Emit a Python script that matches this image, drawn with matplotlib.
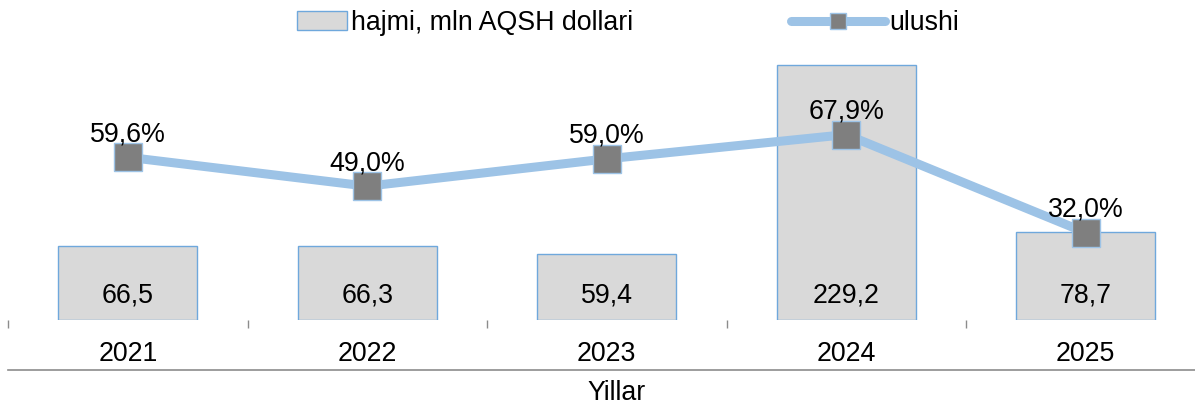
import matplotlib.pyplot as plt
import matplotlib.patches as mpatches
from matplotlib.lines import Line2D
from matplotlib.legend_handler import HandlerPatch

years = ["2021", "2022", "2023", "2024", "2025"]
volume = [66.5, 66.3, 59.4, 229.2, 78.7]
share = [59.6, 49.0, 59.0, 67.9, 32.0]
volume_labels = ["66,5", "66,3", "59,4", "229,2", "78,7"]
share_labels = ["59,6%", "49,0%", "59,0%", "67,9%", "32,0%"]

plt.rcParams['font.family'] = ['Liberation Sans', 'DejaVu Sans']
fs = 19.3

fig = plt.figure(figsize=(11.95, 4.05), dpi=100)
W, H = 1195, 405
ax = fig.add_axes([8 / W, (H - 320) / H, 1197.5 / W, 278 / H])
x = list(range(len(years)))

ax.bar(x, volume, width=0.58, color="#D9D9D9", edgecolor="#6FA8DC", linewidth=1)
ax.set_xlim(-0.5, 4.5)
ax.set_ylim(0, 250)
for s in ax.spines.values():
    s.set_visible(False)
ax.set_yticks([])
ax.set_xticks(x)
ax.set_xticklabels(years, fontsize=fs)
ax.tick_params(axis="x", which="major", length=0, pad=15)
ax.set_xticks([i - 0.5 for i in range(len(years) + 1)], minor=True)
ax.tick_params(axis="x", which="minor", length=6, width=1, color="#8c8c8c", direction="out")

for i, lab in enumerate(volume_labels):
    ax.annotate(lab, (i, 0), xytext=(0, 25), textcoords="offset pixels",
                ha="center", va="center", fontsize=fs)

ax2 = ax.twinx()
ax2.set_ylim(0, 101.8)
ax2.set_yticks([])
for s in ax2.spines.values():
    s.set_visible(False)
ax2.plot(x, share, color="#9DC3E6", linewidth=6.5, marker="s", markersize=20.5,
         markerfacecolor="#7F7F7F", markeredgecolor="#9DC3E6", markeredgewidth=1,
         solid_capstyle="round", zorder=3)
for i, lab in enumerate(share_labels):
    ax2.annotate(lab, (i, share[i]), xytext=(0, 23), textcoords="offset pixels",
                 ha="center", va="center", fontsize=fs, zorder=4)


def narrow_rect(legend, orig_handle, xdescent, ydescent, width, height, fontsize):
    return mpatches.Rectangle((-xdescent + width * 0.47, -ydescent), width * 0.53, height)


bar_h = mpatches.Patch(facecolor="#D9D9D9", edgecolor="#6FA8DC", linewidth=1)
line_h = Line2D([0], [0], color="#9DC3E6", linewidth=6.5, marker="s", markersize=11,
                markerfacecolor="#7F7F7F", markeredgecolor="#9DC3E6",
                solid_capstyle="round")
hl = 3.5
hl_px = hl * fs * 100 / 72
fig.legend([bar_h, line_h], ["hajmi, mln AQSH dollari", "ulushi"],
           loc="center left", bbox_to_anchor=((297 - 0.47 * hl_px) / W, 1 - 23 / H), ncol=2,
           frameon=False, fontsize=fs, handlelength=hl, handletextpad=0.15,
           borderpad=0, borderaxespad=0,
           columnspacing=5.9, handler_map={mpatches.Patch: HandlerPatch(patch_func=narrow_rect)})

fig.add_artist(Line2D([8 / W, 1], [(H - 370) / H] * 2, color="#8c8c8c", linewidth=1.2))
fig.text(617 / W, (H - 393) / H, "Yillar", ha="center", va="center", fontsize=fs)

fig.savefig("out.png", dpi=100)
